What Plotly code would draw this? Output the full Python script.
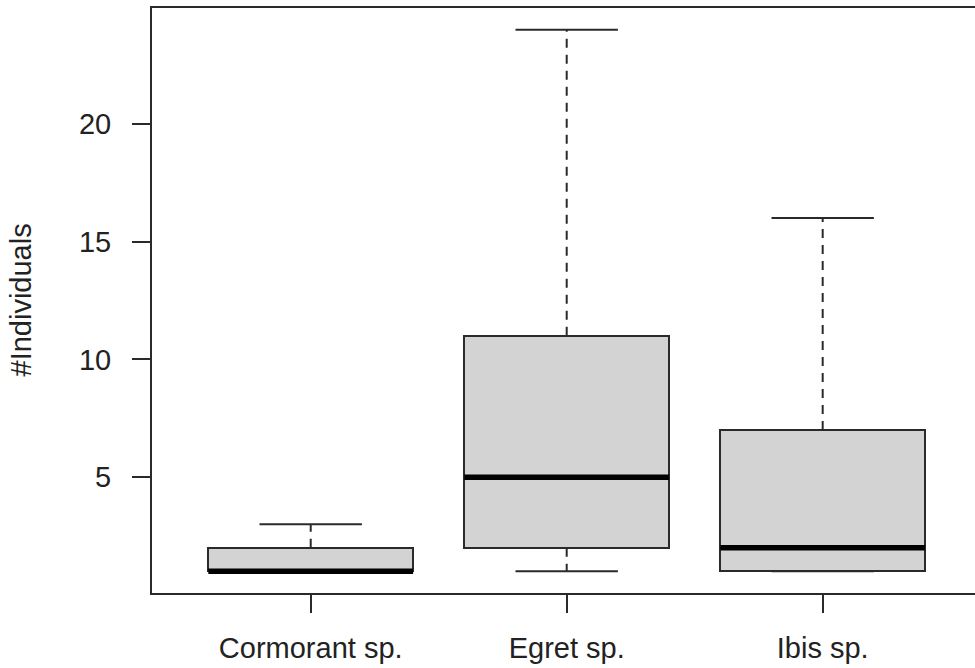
import plotly.graph_objects as go

# Five-number summaries per species (counts of individuals)
species = ["Cormorant sp.", "Egret sp.", "Ibis sp."]
positions = [1, 2, 3]
mins = [1, 1, 1]
q1 = [1, 2, 1]
medians = [1, 5, 2]
q3 = [2, 11, 7]
maxs = [3, 24, 16]
y_ticks = [5, 10, 15, 20]

BOX_W = 0.8
CAP_W = 0.4
LINE_COL = "#2a2a2a"
FONT = dict(family="Liberation Sans, Arial, sans-serif", size=29, color="#222222")

fig = go.Figure()

# Dashed whiskers (box edge to extreme)
wx, wy = [], []
for p, lo, a, b, hi in zip(positions, mins, q1, q3, maxs):
    wx += [p, p, None, p, p, None]
    wy += [b, hi, None, a, lo, None]
fig.add_trace(go.Scatter(x=wx, y=wy, mode="lines",
                         line=dict(color=LINE_COL, width=2, dash="9px,7px"),
                         hoverinfo="skip", showlegend=False))

# Whisker caps
cx, cy = [], []
for p, lo, hi in zip(positions, mins, maxs):
    cx += [p - CAP_W / 2, p + CAP_W / 2, None, p - CAP_W / 2, p + CAP_W / 2, None]
    cy += [hi, hi, None, lo, lo, None]
fig.add_trace(go.Scatter(x=cx, y=cy, mode="lines",
                         line=dict(color=LINE_COL, width=2),
                         hoverinfo="skip", showlegend=False))

# Boxes spanning the interquartile range
fig.add_trace(go.Bar(x=positions, base=q1, y=[b - a for a, b in zip(q1, q3)],
                     width=BOX_W,
                     marker=dict(color="#d3d3d3", line=dict(color=LINE_COL, width=2)),
                     hoverinfo="skip", showlegend=False))

# Medians
mx, my = [], []
for p, m in zip(positions, medians):
    mx += [p - BOX_W / 2, p + BOX_W / 2, None]
    my += [m, m, None]
fig.add_trace(go.Scatter(x=mx, y=my, mode="lines",
                         line=dict(color="#000000", width=5.5),
                         hoverinfo="skip", showlegend=False))

W, H = 975, 668
ML, MT, MB = 152, 8, 75
fig.update_layout(
    width=W, height=H,
    margin=dict(l=ML, r=0, t=MT, b=MB),
    paper_bgcolor="white", plot_bgcolor="white",
    font=FONT,
    showlegend=False,
    bargap=0,
    xaxis=dict(range=[0.38, 3.595], tickmode="array", tickvals=positions,
               ticktext=species, ticks="outside", ticklen=18, tickwidth=2,
               tickcolor=LINE_COL, showline=True, linecolor=LINE_COL, linewidth=2,
               mirror=True, showgrid=False, zeroline=False,
               ticklabelstandoff=10, tickfont=FONT),
    yaxis=dict(range=[0.08, 24.92], tickmode="array", tickvals=y_ticks,
               ticks="outside", ticklen=18, tickwidth=2, tickcolor=LINE_COL,
               showline=True, linecolor=LINE_COL, linewidth=2,
               showgrid=False, zeroline=False,
               ticklabelstandoff=15, tickfont=FONT),
    annotations=[dict(text="#Individuals", textangle=-90, showarrow=False,
                      xref="paper", yref="paper",
                      x=(20 - ML) / (W - ML), y=0.5,
                      xanchor="center", yanchor="middle", font=FONT)],
)

fig.write_html("out.html")
